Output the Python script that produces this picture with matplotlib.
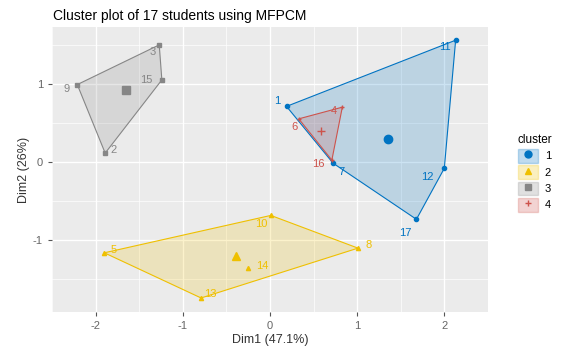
import numpy as np
import matplotlib
matplotlib.use("Agg")
import matplotlib.pyplot as plt
from matplotlib.patches import Polygon, Patch
from matplotlib.lines import Line2D

plt.rcParams['font.family'] = ['Liberation Sans', 'DejaVu Sans']
plt.rcParams['axes.unicode_minus'] = False

# student coordinates on the first two dimensions
students = [str(i) for i in range(1, 18)]
dim1 = [0.19, -1.89, -1.27, 0.83, -1.90, 0.33, 0.725, 1.01, -2.21, 0.01,
        2.13, 2.00, -0.79, -0.25, -1.24, 0.71, 1.68]
dim2 = [0.71, 0.11, 1.50, 0.70, -1.17, 0.55, -0.02, -1.11, 0.99, -0.69,
        1.56, -0.085, -1.75, -1.36, 1.05, 0.02, -0.74]
cluster = [1, 3, 3, 4, 2, 4, 1, 2, 3, 2, 1, 1, 2, 2, 3, 4, 1]

# cluster centres
cent_x = [1.35, -0.39, -1.65, 0.59]
cent_y = [0.29, -1.21, 0.92, 0.40]

# convex hull order per cluster
hulls = {1: [1, 11, 12, 17, 7], 2: [5, 10, 8, 13], 3: [9, 3, 15, 2], 4: [6, 4, 16]}

colors = {1: '#0073C2', 2: '#EFC000', 3: '#868686', 4: '#CD534C'}
markers = {1: 'o', 2: '^', 3: 's', 4: '+'}

# label offsets in points (repel style)
lab_off = {1: (-7, 4), 2: (6, 2), 3: (-5, -5), 4: (-6, -3), 5: (7, 2), 6: (-3, -6),
           7: (6, -6), 8: (8, 2), 9: (-8, -3), 10: (-7, -6), 11: (-8, -5), 12: (-12, -6),
           13: (7, 3), 14: (10, 1), 15: (-11, 0), 16: (-10, -3), 17: (-8, -10)}

fig = plt.figure(figsize=(5.74, 3.5), dpi=100)
ax = fig.add_axes([0.0906, 0.1086, 0.7594, 0.8144])
ax.set_facecolor('#EBEBEB')
ax.set_xlim(-2.42, 2.32)
ax.set_ylim(-1.93, 1.73)

ax.set_xticks([-2, -1, 0, 1, 2])
ax.set_yticks([-1, 0, 1])
ax.set_xticks(np.arange(-2.5, 2.6, 0.5), minor=True)
ax.set_yticks(np.arange(-1.5, 1.6, 0.5), minor=True)
ax.grid(which='major', color='white', linewidth=1.0)
ax.grid(which='minor', color='white', linewidth=0.5)
ax.set_axisbelow(True)
for s in ax.spines.values():
    s.set_visible(False)
ax.tick_params(which='major', length=3, color='#555555', labelsize=8, labelcolor='#666666')
ax.tick_params(which='minor', length=0)

for k, idx in hulls.items():
    pts = [(dim1[i - 1], dim2[i - 1]) for i in idx]
    ax.add_patch(Polygon(pts, closed=True, facecolor=colors[k], alpha=0.2, edgecolor='none'))
    ax.add_patch(Polygon(pts, closed=True, facecolor='none', edgecolor=colors[k], linewidth=0.8))

for i in range(len(students)):
    k = cluster[i]
    ax.plot(dim1[i], dim2[i], marker=markers[k], color=colors[k], markersize=3, linestyle='none')
    ax.annotate(students[i], (dim1[i], dim2[i]), xytext=lab_off[i + 1], textcoords='offset points',
                ha='center', va='center', fontsize=8, color=colors[k])

for k in range(4):
    ax.plot(cent_x[k], cent_y[k], marker=markers[k + 1], color=colors[k + 1], markersize=6,
            linestyle='none')

ax.set_xlabel('Dim1 (47.1%)', fontsize=9, labelpad=2, color='#333333')
ax.set_ylabel('Dim2 (26%)', fontsize=9, labelpad=2, color='#333333')
fig.text(0.092, 0.955, 'Cluster plot of 17 students using MFPCM', fontsize=10, va='center')

handles = []
for k in range(1, 5):
    handles.append((Patch(facecolor=colors[k], alpha=0.25, edgecolor=colors[k]),
                    Line2D([], [], marker=markers[k], color=colors[k], markersize=5, linestyle='none')))
leg = fig.legend(handles, ['1', '2', '3', '4'], title='cluster', loc='upper left',
                 bbox_to_anchor=(0.885, 0.645), frameon=False, fontsize=8, title_fontsize=8.5,
                 handlelength=1.8, handleheight=1.5, labelspacing=0.25, handletextpad=0.6)
leg._legend_box.align = 'left'

fig.savefig('out.png', dpi=100)
